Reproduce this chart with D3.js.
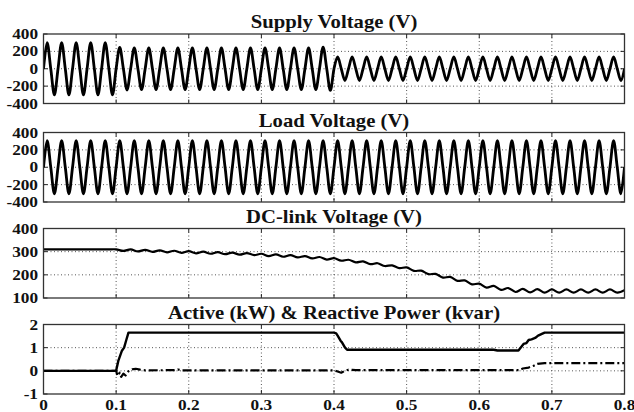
<!DOCTYPE html>
<html lang="en">
<head>
<meta charset="UTF-8">
<title>Supply / Load / DC-link / Power</title>
<script src="https://d3js.org/d3.v7.min.js"></script>
<style>
  body { margin: 0; background: #fff; }
</style>
</head>
<body>
<div id="chart"></div>
<script>
// ---- data ----
var xTicks = [0, 0.1, 0.2, 0.3, 0.4, 0.5, 0.6, 0.7, 0.8];

// peak amplitude of each 50 Hz cycle (40 cycles over 0..0.8 s)
var supplyAmp = [300, 300, 300, 300, 300,
  245, 240, 240, 240, 240, 240, 240, 240, 240, 240, 240, 240, 240, 240, 250,
  135, 135, 135, 135, 135, 135, 135, 135, 135, 135,
  135, 135, 135, 135, 135, 135, 135, 135, 135, 135];
var loadAmp = [305, 305, 305, 305, 305, 305, 305, 305, 305, 305,
  305, 305, 305, 305, 305, 305, 305, 305, 305, 305,
  305, 305, 305, 305, 305, 305, 305, 305, 305, 305,
  305, 305, 305, 305, 305, 305, 305, 305, 305, 305];

// DC-link voltage, sampled every 0.01 s from 0 to 0.8
var dcLink = [310, 310, 310, 310, 310, 310, 310, 310, 310, 310,
  310, 303, 310, 301, 308, 299, 306, 297, 304, 295,
  302, 293, 300, 291, 298, 289, 296, 287, 294, 285,
  291, 281, 288, 278, 285, 275, 281, 271, 277, 266,
  272, 261, 265, 254, 258, 246, 250, 238, 241, 229,
  232, 217, 218, 203, 204, 188, 191, 174, 176, 159,
  162, 145, 152, 135, 143, 126, 139, 124, 138, 123,
  137, 123, 137, 123, 137, 123, 137, 123, 137, 123, 134];

// active power (kW)
var activeT = [0, 0.1, 0.103, 0.108, 0.111, 0.114, 0.117, 0.4, 0.403, 0.405, 0.409, 0.411, 0.415, 0.418,
  0.62, 0.625, 0.654, 0.661, 0.665, 0.668, 0.672, 0.677, 0.681, 0.69, 0.8];
var activeP = [0, 0, 0.43, 0.87, 1.0, 1.33, 1.65, 1.65, 1.62, 1.52, 1.3, 1.23, 1.01, 0.91,
  0.91, 0.88, 0.88, 1.16, 1.2, 1.33, 1.36, 1.42, 1.52, 1.65, 1.65];

// reactive power (kvar)
var reactiveT = [0, 0.1, 0.102, 0.105, 0.107, 0.11, 0.113, 0.117, 0.122, 0.127, 0.133, 0.14, 0.18, 0.185, 0.19,
  0.4, 0.404, 0.41, 0.415, 0.42, 0.425, 0.43, 0.655, 0.66, 0.668, 0.675, 0.68, 0.69, 0.8];
var reactiveQ = [0, 0, -0.22, -0.08, -0.26, -0.12, -0.2, -0.02, 0.06, 0.09, 0.05, 0.02, 0.03, 0.06, 0.02,
  0.02, -0.02, -0.08, 0.0, 0.05, 0.04, 0.03, 0.03, 0.1, 0.14, 0.22, 0.3, 0.33, 0.33];

var panels = [
  { title: "Supply Voltage (V)", top: 34, domain: [-400, 400], ticks: [-400, -200, 0, 200, 400] },
  { title: "Load Voltage (V)", top: 132.5, domain: [-400, 400], ticks: [-400, -200, 0, 200, 400] },
  { title: "DC-link Voltage (V)", top: 228.5, domain: [100, 400], ticks: [100, 200, 300, 400] },
  { title: "Active (kW) & Reactive Power (kvar)", top: 324.5, domain: [-1, 2], ticks: [-1, 0, 1, 2] }
];

// ---- layout ----
var W = 634, H = 412, left = 43.5, right = 624.5, ph = 69.5;
var font = "'Liberation Serif', 'Times New Roman', Times, serif";

var svg = d3.select("#chart").append("svg")
  .attr("width", W).attr("height", H);

var x = d3.scaleLinear().domain([0, 0.8]).range([left, right]);

// waveform points from per-cycle amplitude: zero, +peak, zero, -peak ...
function wave(amp) {
  var pts = [];
  amp.forEach(function(a, k) {
    var t0 = k * 0.02;
    pts.push([t0, 0], [t0 + 0.005, a], [t0 + 0.01, 0], [t0 + 0.015, -a]);
  });
  pts.push([0.8, 0]);
  return pts;
}

var series = [
  [{ pts: wave(supplyAmp), curve: d3.curveCardinal, dash: null, w: 2.8 }],
  [{ pts: wave(loadAmp), curve: d3.curveCardinal, dash: null, w: 2.8 }],
  [{ pts: dcLink.map(function(v, i) { return [i * 0.01, v]; }), curve: d3.curveCardinal, dash: null, w: 2.2 }],
  [{ pts: reactiveT.map(function(t, i) { return [t, reactiveQ[i]]; }), curve: d3.curveLinear, dash: "9,3,2,3", w: 2.2 },
   { pts: activeT.map(function(t, i) { return [t, activeP[i]]; }), curve: d3.curveLinear, dash: null, w: 2.4 }]
];

panels.forEach(function(p, pi) {
  var y = d3.scaleLinear().domain(p.domain).range([p.top + ph, p.top]);
  var g = svg.append("g");

  g.append("rect")
    .attr("x", left).attr("y", p.top)
    .attr("width", right - left).attr("height", ph)
    .attr("fill", "#fff");

  // dotted grid
  g.selectAll(".vg").data(xTicks.slice(1, -1)).enter().append("line")
    .attr("x1", function(d) { return x(d); }).attr("x2", function(d) { return x(d); })
    .attr("y1", p.top).attr("y2", p.top + ph)
    .attr("stroke", "#555").attr("stroke-width", 1).attr("stroke-dasharray", "1,2.5");
  g.selectAll(".hg").data(p.ticks.slice(1, -1)).enter().append("line")
    .attr("x1", left).attr("x2", right)
    .attr("y1", function(d) { return y(d); }).attr("y2", function(d) { return y(d); })
    .attr("stroke", "#555").attr("stroke-width", 1).attr("stroke-dasharray", "1,2.5");

  // inner tick marks
  g.selectAll(".tb").data(xTicks).enter().append("line")
    .attr("x1", function(d) { return x(d); }).attr("x2", function(d) { return x(d); })
    .attr("y1", p.top + ph).attr("y2", p.top + ph - 4)
    .attr("stroke", "#222");
  g.selectAll(".tt").data(xTicks).enter().append("line")
    .attr("x1", function(d) { return x(d); }).attr("x2", function(d) { return x(d); })
    .attr("y1", p.top).attr("y2", p.top + 4)
    .attr("stroke", "#222");
  g.selectAll(".tl").data(p.ticks).enter().append("line")
    .attr("x1", left).attr("x2", left + 4)
    .attr("y1", function(d) { return y(d); }).attr("y2", function(d) { return y(d); })
    .attr("stroke", "#222");
  g.selectAll(".tr").data(p.ticks).enter().append("line")
    .attr("x1", right).attr("x2", right - 4)
    .attr("y1", function(d) { return y(d); }).attr("y2", function(d) { return y(d); })
    .attr("stroke", "#222");

  // traces
  var clipId = "clip" + pi;
  svg.append("clipPath").attr("id", clipId).append("rect")
    .attr("x", left).attr("y", p.top - 1).attr("width", right - left).attr("height", ph + 2);
  series[pi].forEach(function(s) {
    var line = d3.line()
      .x(function(d) { return x(d[0]); })
      .y(function(d) { return y(d[1]); })
      .curve(s.curve);
    g.append("path")
      .attr("d", line(s.pts))
      .attr("clip-path", "url(#" + clipId + ")")
      .attr("fill", "none").attr("stroke", "#000")
      .attr("stroke-width", s.w)
      .attr("stroke-linejoin", "round")
      .attr("stroke-dasharray", s.dash);
  });

  // frame
  g.append("rect")
    .attr("x", left).attr("y", p.top)
    .attr("width", right - left).attr("height", ph)
    .attr("fill", "none").attr("stroke", "#333").attr("stroke-width", 1.3);

  // y tick labels
  g.selectAll(".yl").data(p.ticks).enter().append("text")
    .attr("transform", function(d) { return "translate(38," + (y(d) + 5) + ") scale(1.15,1)"; })
    .attr("text-anchor", "end")
    .attr("font-family", font).attr("font-weight", "bold").attr("font-size", 15)
    .attr("fill", "#111")
    .text(function(d) { return d; });

  // title
  svg.append("text")
    .attr("transform", "translate(" + ((left + right) / 2) + "," + (p.top - 6) + ") scale(1.15,1)")
    .attr("text-anchor", "middle")
    .attr("font-family", font).attr("font-weight", "bold").attr("font-size", 18)
    .attr("fill", "#111")
    .text(p.title);

  // x tick labels on the last panel only
  if (pi === panels.length - 1) {
    g.selectAll(".xl").data(xTicks).enter().append("text")
      .attr("transform", function(d) { return "translate(" + x(d) + "," + (p.top + ph + 16) + ") scale(1.15,1)"; })
      .attr("text-anchor", "middle")
      .attr("font-family", font).attr("font-weight", "bold").attr("font-size", 15)
      .attr("fill", "#111")
      .text(function(d) { return d; });
  }
});
</script>
</body>
</html>
